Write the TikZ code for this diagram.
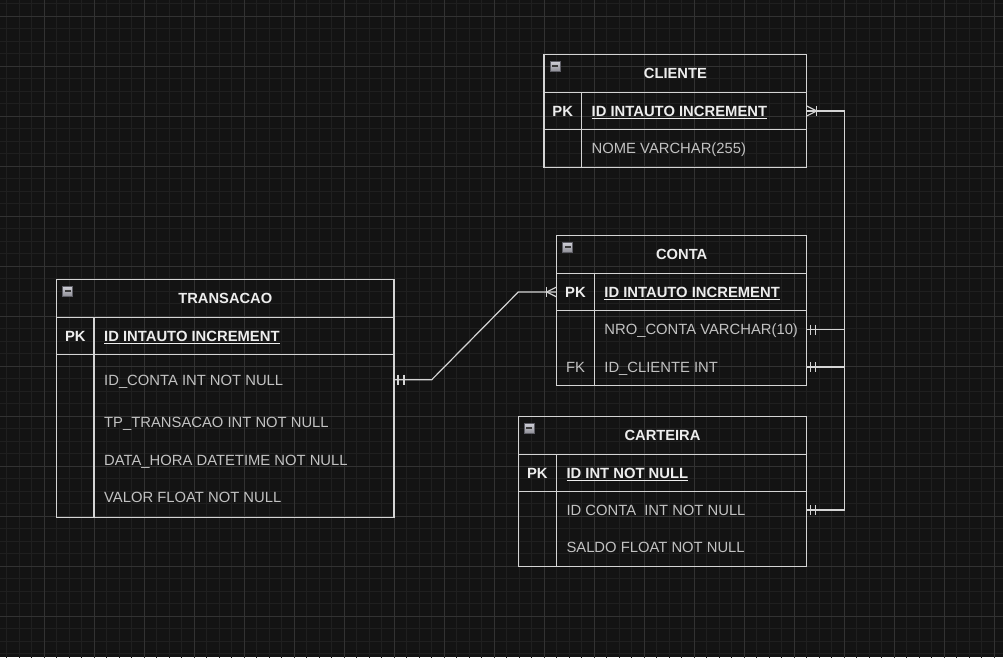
\documentclass[tikz,border=0pt]{standalone}
\usepackage{fontspec}
\setmainfont{Liberation Sans}
\usepackage{tikz}
\usetikzlibrary{arrows,shapes,calc}
\usetikzlibrary{positioning,fit}
\definecolor{bgdark}{HTML}{131313}
\definecolor{gridminor}{HTML}{1F1F1F}
\definecolor{gridmajor}{HTML}{323232}
\definecolor{tline}{HTML}{D4D4D4}
\definecolor{ttext}{HTML}{C2C2C2}
\definecolor{thead}{HTML}{EDEDED}
\definecolor{icoborder}{HTML}{5E5E66}
\definecolor{icotop}{HTML}{D0D0D8}
\definecolor{icobottom}{HTML}{8E8E96}
\definecolor{icobar}{HTML}{3A3A3A}
\tikzstyle{tablehead} =
  [rectangle, draw=tline, line width=1.2pt, anchor=north west,
   outer sep=0pt, inner sep=0pt, minimum height=37.5pt, text=thead,
   text height=10.6pt, text depth=0pt, font=\fontsize{14.7}{17}\selectfont\bfseries]
\tikzstyle{tablerow} =
  [rectangle, draw=tline, line width=1.2pt, outer sep=0pt, inner sep=0pt,
   minimum height=37.5pt]
\tikzstyle{field} =
  [anchor=west, inner sep=0pt, text height=10.6pt, text depth=0pt, text=ttext,
   font=\fontsize{14.8}{17}\selectfont]
\tikzstyle{pkfield} = [field, text=thead, font=\fontsize{14.8}{17}\selectfont\bfseries]
\tikzstyle{keyfield} = [field, anchor=center]
\tikzstyle{pkkey} = [pkfield, anchor=center]
\tikzstyle{collapse} =
  [rectangle, draw=icoborder, line width=0.7pt, top color=icotop,
   bottom color=icobottom, minimum size=10pt, inner sep=0pt]
\tikzstyle{link} = [draw=tline, line width=1.2pt]

\begin{document}
\begin{tikzpicture}[x=1pt, y=-1pt]
  \useasboundingbox (0,0) rectangle (1003,657);
  \begin{scope}
    \clip (0,0) rectangle (1003,657);
    \fill[bgdark] (0,0) rectangle (1003,657);
    \draw[gridminor, line width=0.8pt, shift={(6.5,3.8)}, step=12.5pt]
      (-12.5,662.5) grid (1012.5,-12.5);
    \draw[gridmajor, line width=1pt, shift={(44,16.3)}, step=50pt]
      (-50,700) grid (1000,-50);
  \end{scope}

  \node [tablehead, minimum width=262.7pt] (cli) at (544,54.7) {CLIENTE};
  \node [tablerow, minimum width=262.7pt, below=0pt of cli] (cli-pk) {};
  \node [tablerow, minimum width=262.7pt, minimum height=37.4pt, below=0pt of cli-pk] (cli-body) {};
  \node [collapse] (cli-ico) at ($(cli.north west)+(11,11.5)$) {};
  \draw [icobar, line width=1.6pt] ($(cli-ico.west)+(2.5,0)$) -- ($(cli-ico.east)+(-2.5,0)$);
  \draw [link] ($(cli-pk.north west)+(37.5,0)$) -- ($(cli-body.south west)+(37.5,0)$);
  \node [pkkey] (cli-key) at ($(cli-pk.west)+(18.75,0)$) {PK};
  \node [pkfield] (cli-id) at ($(cli-pk.west)+(47.5,0)$) {\underline{ID INTAUTO INCREMENT}};
  \node [field] (cli-nome) at ($(cli-body.west)+(47.5,0)$) {NOME VARCHAR(255)};

  \node [tablehead, minimum width=250pt] (con) at (556.7,235.7) {CONTA};
  \node [tablerow, minimum width=250pt, below=0pt of con] (con-pk) {};
  \node [tablerow, minimum width=250pt, minimum height=75pt, below=0pt of con-pk] (con-body) {};
  \node [collapse] (con-ico) at ($(con.north west)+(11,11.5)$) {};
  \draw [icobar, line width=1.6pt] ($(con-ico.west)+(2.5,0)$) -- ($(con-ico.east)+(-2.5,0)$);
  \draw [link] ($(con-pk.north west)+(37.5,0)$) -- ($(con-body.south west)+(37.5,0)$);
  \node [pkkey] (con-key) at ($(con-pk.west)+(18.75,0)$) {PK};
  \node [pkfield] (con-id) at ($(con-pk.west)+(47.5,0)$) {\underline{ID INTAUTO INCREMENT}};
  \node [field] (con-nro) at ($(con-body.north west)+(47.5,18.8)$) {NRO\_CONTA VARCHAR(10)};
  \node [keyfield] (con-fk) at ($(con-body.north west)+(18.75,56.3)$) {FK};
  \node [field] (con-idcli) at ($(con-body.north west)+(47.5,56.3)$) {ID\_CLIENTE INT};

  \node [tablehead, minimum width=288.4pt] (car) at (518.3,416.7) {CARTEIRA};
  \node [tablerow, minimum width=288.4pt, below=0pt of car] (car-pk) {};
  \node [tablerow, minimum width=288.4pt, minimum height=75pt, below=0pt of car-pk] (car-body) {};
  \node [collapse] (car-ico) at ($(car.north west)+(11,11.5)$) {};
  \draw [icobar, line width=1.6pt] ($(car-ico.west)+(2.5,0)$) -- ($(car-ico.east)+(-2.5,0)$);
  \draw [link] ($(car-pk.north west)+(38,0)$) -- ($(car-body.south west)+(38,0)$);
  \node [pkkey] (car-key) at ($(car-pk.west)+(19,0)$) {PK};
  \node [pkfield] (car-id) at ($(car-pk.west)+(48,0)$) {\underline{ID INT NOT NULL}};
  \node [field] (car-idcon) at ($(car-body.north west)+(48,18.3)$) {ID CONTA\ \ INT NOT NULL};
  \node [field] (car-saldo) at ($(car-body.north west)+(48,55)$) {SALDO FLOAT NOT NULL};

  \node [tablehead, minimum width=337.3pt] (tra) at (56.7,279.7) {TRANSACAO};
  \node [tablerow, minimum width=337.3pt, below=0pt of tra] (tra-pk) {};
  \node [tablerow, minimum width=337.3pt, minimum height=162.4pt, below=0pt of tra-pk] (tra-body) {};
  \node [collapse] (tra-ico) at ($(tra.north west)+(11,11.5)$) {};
  \draw [icobar, line width=1.6pt] ($(tra-ico.west)+(2.5,0)$) -- ($(tra-ico.east)+(-2.5,0)$);
  \draw [link] ($(tra-pk.north west)+(37.3,0)$) -- ($(tra-body.south west)+(37.3,0)$);
  \node [pkkey] (tra-key) at ($(tra-pk.west)+(18.7,0)$) {PK};
  \node [pkfield] (tra-id) at ($(tra-pk.west)+(47.3,0)$) {\underline{ID INTAUTO INCREMENT}};
  \node [field] (tra-idcon) at ($(tra-body.north west)+(47.3,25)$) {ID\_CONTA INT NOT NULL};
  \node [field] (tra-tp) at ($(tra-body.north west)+(47.3,67.4)$) {TP\_TRANSACAO INT NOT NULL};
  \node [field] (tra-data) at ($(tra-body.north west)+(47.3,105.7)$) {DATA\_HORA DATETIME NOT NULL};
  \node [field] (tra-valor) at ($(tra-body.north west)+(47.3,142.4)$) {VALOR FLOAT NOT NULL};

  \coordinate (tra-out) at (tra-body.east |- tra-idcon);
  \draw [link] (tra-out) -- ++(37.7,0) -- ($(con-pk.west)+(-38.4,0)$) -- (con-pk.west);
  \draw [link] ($(tra-out)+(4,-5)$) -- ++(0,10);
  \draw [link] ($(tra-out)+(10,-5)$) -- ++(0,10);
  \draw [link] ($(con-pk.west)+(0,-5)$) -- ($(con-pk.west)+(-10,0)$) -- ($(con-pk.west)+(0,5)$);
  \draw [link] ($(con-pk.west)+(-10,-5)$) -- ++(0,10);

  \coordinate (con-in) at (con-body.east |- con-idcli);
  \draw [link] (cli-pk.east) -- ++(37.5,0) |- (con-in);
  \draw [link] ($(cli-pk.east)+(0,-5)$) -- ($(cli-pk.east)+(10,0)$) -- ($(cli-pk.east)+(0,5)$);
  \draw [link] ($(cli-pk.east)+(10,-5)$) -- ++(0,10);
  \draw [link] ($(con-in)+(4,-5)$) -- ++(0,10);
  \draw [link] ($(con-in)+(9,-5)$) -- ++(0,10);

  \coordinate (con-out) at (con-body.east |- con-nro);
  \coordinate (car-in) at (car-body.east |- car-idcon);
  \draw [link] (con-out) -- ++(37.5,0) |- (car-in);
  \draw [link] ($(con-out)+(4,-5)$) -- ++(0,10);
  \draw [link] ($(con-out)+(9,-5)$) -- ++(0,10);
  \draw [link] ($(car-in)+(4,-5)$) -- ++(0,10);
  \draw [link] ($(car-in)+(9,-5)$) -- ++(0,10);
\end{tikzpicture}
\end{document}
